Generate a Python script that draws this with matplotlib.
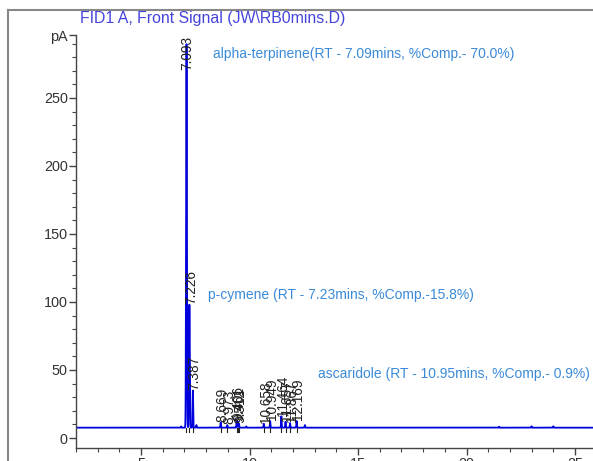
import numpy as np
import matplotlib
matplotlib.use("Agg")
import matplotlib.pyplot as plt
from matplotlib.lines import Line2D
from matplotlib.ticker import MultipleLocator

plt.rcParams['font.family'] = ['Liberation Sans', 'DejaVu Sans']

# ---- data ----
peak_rt = [7.093, 7.226, 7.387, 8.669, 8.973, 9.406, 9.461, 9.512,
           10.658, 10.949, 11.464, 11.657, 11.867, 12.169]
peak_height = [290, 98, 35, 11.5, 9.5, 13, 12, 10.5,
               10.5, 12.5, 16, 12, 11, 12.5]
peak_labels = ["7.093", "7.226", "7.387", "8.669", "8.973", "9.406", "9.461", "9.512",
               "10.658", "10.949", "11.464", "11.657", "11.867", "12.169"]
minor_rt = [6.85, 7.55, 9.85, 12.55, 21.5, 23.0, 24.0]
minor_height = [8.5, 9.5, 8.5, 9.5, 8.3, 8.6, 8.6]
baseline_level = 7.6

title_text = "FID1 A, Front Signal (JW\\RB0mins.D)"
annotations = [
    ("alpha-terpinene(RT - 7.09mins, %Comp.- 70.0%)", 8.32, 282),
    ("p-cymene (RT - 7.23mins, %Comp.-15.8%)", 8.09, 105),
    ("ascaridole (RT - 10.95mins, %Comp.- 0.9%)", 13.16, 47),
]
y_major = [0, 50, 100, 150, 200, 250]
x_major = [5, 10, 15, 20, 25]

# ---- build trace from peak table ----
t = np.arange(2.0, 26.0, 0.002)
signal = np.full_like(t, baseline_level)
for rt, h in zip(peak_rt + minor_rt, peak_height + minor_height):
    sig = 0.018 if h > 50 else 0.012
    signal += (h - baseline_level) * np.exp(-0.5 * ((t - rt) / sig) ** 2)

fig = plt.figure(figsize=(5.93, 4.61), dpi=100)
ax = fig.add_axes([76 / 593, 13 / 461, 1 - 76 / 593, (448 - 35) / 461])
ax.plot(t, signal, color='#0000dd', lw=1.3)

ymax = 296.3
ax.set_xlim(2.0, 25.83)
ax.set_ylim(-7.35, ymax)

for sp in ['top', 'right']:
    ax.spines[sp].set_visible(False)
for sp in ['left', 'bottom']:
    ax.spines[sp].set_color('#444444')
    ax.spines[sp].set_linewidth(1.0)

ax.set_yticks(y_major + [ymax])
ax.set_yticklabels([str(v) for v in y_major] + ["pA"])
ax.yaxis.set_minor_locator(MultipleLocator(10))
ax.set_xticks(x_major)
ax.xaxis.set_minor_locator(MultipleLocator(1))
ax.tick_params(axis='both', which='major', length=5, width=1, color='#444444',
               labelsize=10.4, labelcolor='#333333')
ax.tick_params(axis='both', which='minor', length=3, width=0.8, color='#444444')
ax.tick_params(axis='x', pad=1.5)
ax.tick_params(axis='y', pad=1)

# peak retention-time labels
for rt, h, lab in zip(peak_rt, peak_height, peak_labels):
    if h + 30 > ymax:
        ax.text(rt + 0.05, ymax - 1, lab, rotation=90, ha='center', va='top',
                fontsize=9.8, color='#222222')
    else:
        ax.text(rt + 0.08, h + 0.5, lab, rotation=90, ha='center', va='bottom',
                fontsize=9.8, color='#222222')
    ax.plot([rt, rt], [baseline_level - 3.5, baseline_level - 0.5], color='#222222', lw=0.8)

for txt, x, y in annotations:
    ax.text(x, y, txt, fontsize=10.0, color='#3a8ad8', ha='left', va='center')

fig.text(80 / 593, 1 - 18 / 461, title_text, fontsize=11.4, color='#4444dd',
         ha='left', va='center')

# outer frame
fig.add_artist(Line2D([8 / 593, 8 / 593], [0, 1 - 10 / 461], color='#888888', lw=1.5,
                      transform=fig.transFigure))
fig.add_artist(Line2D([8 / 593, 1], [1 - 10 / 461, 1 - 10 / 461], color='#888888', lw=1.5,
                      transform=fig.transFigure))

fig.savefig("out.png", dpi=100)
